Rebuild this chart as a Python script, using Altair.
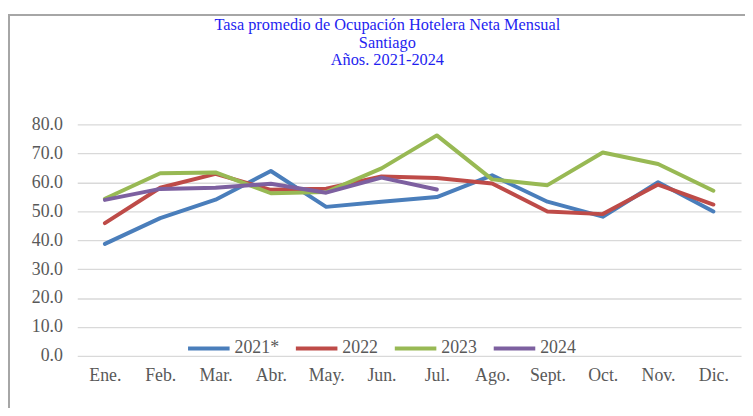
import altair as alt
import pandas as pd

months = ["Ene.", "Feb.", "Mar.", "Abr.", "May.", "Jun.", "Jul.", "Ago.", "Sept.", "Oct.", "Nov.", "Dic."]
s2021 = [38.7, 47.6, 54.0, 63.9, 51.5, 53.3, 54.9, 62.4, 53.3, 48.1, 60.0, 49.9]
s2022 = [45.9, 58.1, 62.9, 57.4, 57.8, 62.0, 61.5, 59.6, 49.9, 49.0, 59.2, 52.3]
s2023 = [54.3, 63.1, 63.4, 56.2, 56.6, 64.8, 76.2, 61.0, 59.0, 70.3, 66.3, 57.1]
s2024 = [53.9, 57.7, 58.1, 59.5, 56.4, 61.6, 57.5]

series = {"2021*": s2021, "2022": s2022, "2023": s2023, "2024": s2024}
colors = ["#4A7EBB", "#BE4B48", "#98B954", "#7D60A0"]
ticks = [0, 10, 20, 30, 40, 50, 60, 70, 80]

rows = []
for name, vals in series.items():
    for m, v in zip(months, vals):
        rows.append({"mes": m, "serie": name, "valor": v})
df = pd.DataFrame(rows)

FONT = "Liberation Serif, Times New Roman, DejaVu Serif, serif"
GRAY = "#595959"

lines = alt.Chart(df).mark_line(strokeWidth=4, strokeCap="round", strokeJoin="round").encode(
    x=alt.X("mes:N", sort=months, title=None,
            scale=alt.Scale(type="point", padding=0.5),
            axis=alt.Axis(labelAngle=0, domain=False, ticks=False, grid=False,
                          labelFont=FONT, labelFontSize=18, labelColor=GRAY,
                          labelPadding=11)),
    y=alt.Y("valor:Q", title=None,
            scale=alt.Scale(domain=[0, 80], nice=False, zero=True),
            axis=alt.Axis(values=ticks, format=".1f", domain=False, ticks=False,
                          gridColor="#D9D9D9", gridWidth=1.3,
                          labelFont=FONT, labelFontSize=18, labelColor=GRAY,
                          labelPadding=15)),
    color=alt.Color("serie:N", title=None,
                    scale=alt.Scale(domain=list(series.keys()), range=colors),
                    legend=alt.Legend(orient="none", direction="horizontal",
                                      legendX=110, legendY=203.5, padding=0,
                                      symbolType="stroke", symbolSize=1764,
                                      symbolStrokeWidth=4, labelOffset=3,
                                      columnPadding=9,
                                      labelFont=FONT, labelFontSize=18,
                                      labelColor=GRAY)),
)

frame_top = alt.Chart(df).mark_rule(color="#A6A6A6", strokeWidth=1.5).encode(
    x=alt.value(-69), x2=alt.value(680), y=alt.value(-110.8)
)
frame_left = alt.Chart(df).mark_rule(color="#A6A6A6", strokeWidth=1.5).encode(
    x=alt.value(-69), y=alt.value(-110.8), y2=alt.value(300)
)

chart = alt.layer(frame_top, frame_left, lines).properties(
    width=671, height=234,
    autosize=alt.AutoSizeParams(type="none"),
    padding={"left": 70, "top": 115.5, "right": 4, "bottom": 50},
    title=alt.Title(
        text=["Tasa promedio de Ocupación Hotelera Neta Mensual", "Santiago", "Años. 2021-2024"],
        font=FONT, fontSize=16.5, fontWeight="normal", color="#1F1FF0",
        anchor="middle", frame="group", dx=-22, lineHeight=17.5, offset=-55,
    ),
).configure_view(stroke=None)

chart.save("out.html", embed_options={"renderer": "svg", "actions": False})
